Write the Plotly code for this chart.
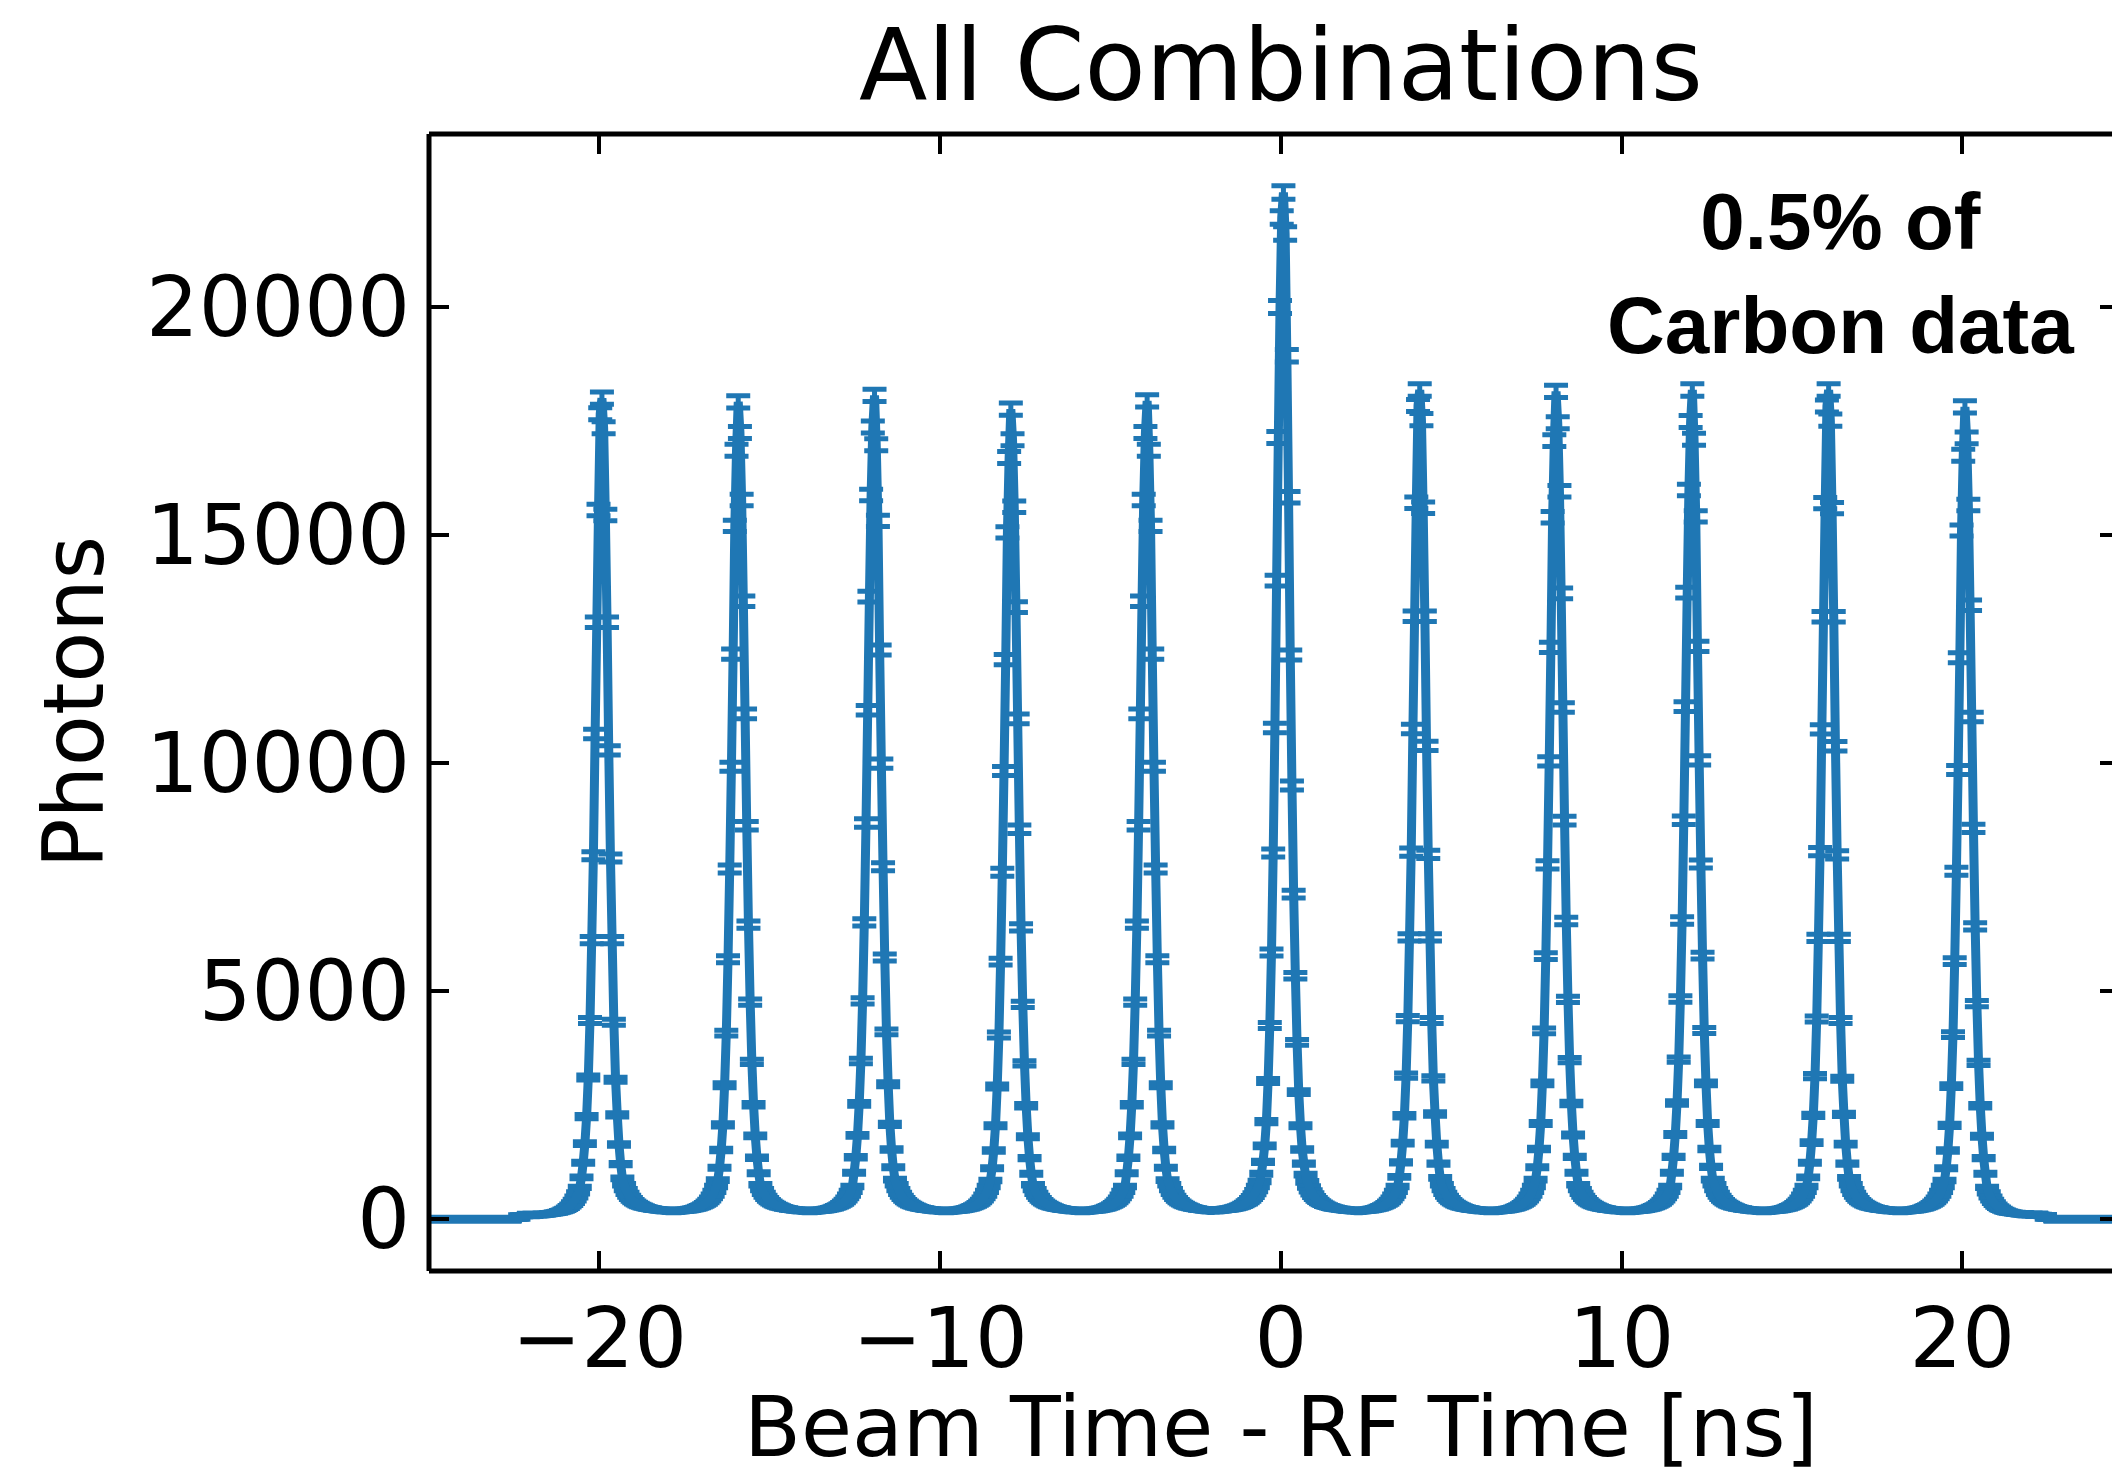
import numpy as np
import plotly.graph_objects as go

# ---------------- data ----------------
# histogram: 1000 bins of 0.05 ns from -25 to 25 ns
bin_lo, bin_hi, n_bins = -25.0, 25.0, 1000

zeros_left = [0] * 53
zeros_right = [0] * 51

outer_left_tail = [90, 91, 92, 93, 94, 95, 96, 97,
                   98, 99, 100, 102, 104, 106, 109, 112, 116, 120,
                   125, 131, 138, 146, 155, 166, 178, 192, 210, 230,
                   255, 285, 320, 365, 420, 490, 580, 700]
outer_right_tail = [700, 580, 490, 420, 365, 320, 283, 252, 226, 205,
                    188, 174, 162, 152, 144, 137, 131, 126, 122, 118,
                    115, 112, 110, 108, 106, 105, 104,
                    103, 102, 101, 100, 99, 98, 97, 96]

valley = [760, 650, 570, 505, 455, 415, 382, 355, 332, 312,
          295, 280, 267, 256, 246, 237, 229, 222, 216, 210,
          205, 201, 197, 194, 191, 189, 187,
          186, 186, 186, 186, 187, 188, 190, 192, 195, 199,
          204, 210, 217, 225, 234, 244, 256, 270, 285, 303,
          325, 350, 382, 420, 470, 530, 610, 720]
valley_m4_0 = [760, 650, 570, 505, 455, 415, 382, 355, 332, 312,
               295, 280, 267, 256, 246, 237, 229, 222, 216, 210,
               205, 201, 197, 194, 192, 192, 193,
               196, 198, 200, 203, 206, 210, 214, 219, 225, 232,
               240, 249, 259, 270, 283, 298, 315, 335, 355, 385,
               415, 455, 500, 560, 630, 720, 830, 1000]
valley_0_4 = [980, 820, 710, 625, 558, 500, 456, 418, 387, 360,
              338, 318, 301, 286, 273, 262, 252, 243, 235, 228,
              222, 217, 212, 208, 204, 201, 198,
              195, 192, 190, 188, 188, 189, 190, 192, 195, 199,
              204, 210, 217, 225, 234, 244, 256, 270, 285, 303,
              325, 350, 382, 420, 470, 530, 610, 720]

core_m20 = [920, 1240, 1660, 2250, 3110, 4360, 6120, 7970, 10640, 13090, 15550, 17660,
            18000, 17350, 15440, 13090, 10280, 7920, 6120, 4320, 3060, 2290, 1640, 1210, 900]
core_m16 = [860, 1130, 1520, 2070, 2940, 4080, 5700, 7680, 9920, 12390, 15200, 16860,
            17920, 17250, 15770, 13550, 11080, 8630, 6460, 4760, 3450, 2510, 1830, 1350, 1010]
core_m12 = [1020, 1360, 1840, 2530, 3470, 4790, 6510, 8690, 11160, 13650, 15880, 17370,
            18060, 16980, 15310, 12480, 9990, 7730, 5740, 4110, 2960, 2080, 1530, 1140, 870]
core_m8 = [850, 1120, 1510, 2050, 2910, 4040, 5650, 7610, 9830, 12270, 15060, 16700,
           17760, 17090, 15620, 13420, 10970, 8550, 6400, 4710, 3420, 2490, 1810, 1340, 1000]
core_m4 = [1010, 1350, 1830, 2510, 3450, 4760, 6460, 8630, 11080, 13550, 15770, 17250,
           17940, 16860, 15200, 12390, 9920, 7680, 5700, 4080, 2940, 2070, 1520, 1130, 860]
core_0 = [1260, 1610, 2140, 3030, 4250, 5850, 8030, 10770, 14000, 17140, 20000, 21960,
          22510, 21610, 18930, 15830, 12370, 9510, 7130, 5340, 3880, 2790, 2050, 1530, 1220]
core_4 = [930, 1250, 1670, 2270, 3150, 4400, 6180, 8050, 10750, 13220, 15710, 17840,
          18180, 17530, 15600, 13220, 10380, 8000, 6180, 4360, 3090, 2310, 1650, 1220, 910]
core_8 = [870, 1140, 1540, 2100, 2980, 4130, 5770, 7770, 10040, 12540, 15390, 17070,
          18150, 17460, 15960, 13720, 11220, 8740, 6540, 4820, 3490, 2540, 1850, 1370, 1020]
core_12 = [1020, 1370, 1860, 2550, 3500, 4830, 6550, 8750, 11240, 13740, 15990, 17490,
           18180, 17100, 15410, 12560, 10060, 7790, 5780, 4140, 2980, 2100, 1540, 1150, 870]
core_16 = [920, 1240, 1680, 2280, 3140, 4390, 6170, 8060, 10740, 13210, 15700, 17830,
           18180, 17520, 15590, 13210, 10370, 7990, 6170, 4360, 3080, 2300, 1650, 1220, 910]
core_20 = [850, 1120, 1510, 2060, 2920, 4050, 5660, 7630, 9850, 12310, 15100, 16750,
           17810, 17130, 15660, 13460, 11010, 8570, 6420, 4730, 3430, 2490, 1820, 1340, 1000]

x_ticks = [-20, -10, 0, 10, 20]
x_tick_text = ["\u221220", "\u221210", "0", "10", "20"]
y_ticks = [0, 5000, 10000, 15000, 20000]
y_tick_text = ["0", "5000", "10000", "15000", "20000"]

title_text = "All Combinations"
x_label = "Beam Time - RF Time [ns]"
y_label = "Photons"
note_text = "<b>0.5% of<br>Carbon data</b>"

# ---------------- assemble histogram ----------------
counts = (zeros_left + outer_left_tail
          + core_m20 + valley + core_m16 + valley + core_m12 + valley
          + core_m8 + valley + core_m4 + valley_m4_0 + core_0 + valley_0_4
          + core_4 + valley + core_8 + valley + core_12 + valley
          + core_16 + valley + core_20 + outer_right_tail + zeros_right)
counts = np.array(counts, dtype=float)
edges = np.linspace(bin_lo, bin_hi, n_bins + 1)
centers = 0.5 * (edges[:-1] + edges[1:])
errors = np.sqrt(counts)

BLUE = "#1f77b4"
FONT = "DejaVu Sans"

# page body has an 8px margin, so the figure is 8px smaller than the window
W, H = 2112, 1466
ML, MR, MT, MB = 421, 0, 126, 203
x_px_per_unit = 34.075
x_right = -25 + (W - ML - MR) / x_px_per_unit

fig = go.Figure()
fig.add_trace(go.Scatter(
    x=centers, y=counts, mode="lines",
    line=dict(color=BLUE, width=9, simplify=False),
    error_y=dict(type="data", array=errors, visible=True, color=BLUE,
                 thickness=5, width=12),
    showlegend=False, hoverinfo="skip",
))

axis_common = dict(
    showgrid=False, zeroline=False, showline=False,
    ticks="inside", ticklen=20, tickwidth=4, tickcolor="black",
    mirror="ticks",
    tickfont=dict(family=FONT, size=83, color="black"),
)
fig.update_xaxes(range=[-25, x_right], tickvals=x_ticks, ticktext=x_tick_text,
                 ticklabelstandoff=12, **axis_common)
fig.update_yaxes(range=[-1133, 23792], tickvals=y_ticks, ticktext=y_tick_text,
                 ticklabelstandoff=18, **axis_common)

shapes = [
    dict(type="line", xref="paper", yref="paper", x0=0, x1=0, y0=0, y1=1,
         line=dict(color="black", width=5), layer="above"),
    dict(type="line", xref="paper", yref="paper", x0=0, x1=1.01, y0=0, y1=0,
         line=dict(color="black", width=5), layer="above"),
    dict(type="line", xref="paper", yref="paper", x0=0, x1=1.01, y0=1, y1=1,
         line=dict(color="black", width=5), layer="above"),
]

annotations = [
    dict(text=title_text, xref="x", yref="paper", x=0, y=1.060,
         xanchor="center", yanchor="middle", showarrow=False,
         font=dict(family=FONT, size=100, color="black")),
    dict(text=x_label, xref="x", yref="paper", x=0, y=-0.138,
         xanchor="center", yanchor="middle", showarrow=False,
         font=dict(family=FONT, size=83, color="black")),
    dict(text=y_label, xref="paper", yref="paper", x=-0.2099, y=0.5,
         xanchor="center", yanchor="middle", showarrow=False, textangle=-90,
         font=dict(family=FONT, size=83, color="black")),
    dict(text=note_text, xref="x", yref="paper", x=16.42, y=0.877,
         xanchor="center", yanchor="middle", showarrow=False, align="center",
         font=dict(family="Liberation Sans", size=80, color="black")),
]

fig.update_layout(
    width=W, height=H,
    margin=dict(l=ML, r=MR, t=MT, b=MB, pad=0),
    paper_bgcolor="white", plot_bgcolor="white",
    shapes=shapes, annotations=annotations,
)

fig.write_html("out.html")
